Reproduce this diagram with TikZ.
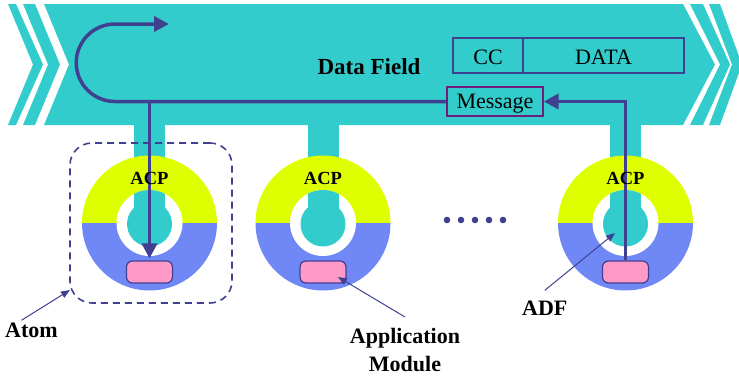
\documentclass[tikz,border=0pt]{standalone}
\usepackage{fontspec}
\setmainfont{Liberation Serif}
\usetikzlibrary{arrows.meta}

\definecolor{band}{RGB}{51,204,204}
\definecolor{ink}{RGB}{64,64,144}
\definecolor{acpyellow}{RGB}{221,255,0}
\definecolor{modblue}{RGB}{112,136,245}
\definecolor{modpink}{RGB}{255,153,200}
\definecolor{msgpurple}{RGB}{110,30,120}

\tikzset{
  flow/.style={draw=ink, line width=3.5pt},
  flowtip/.style={-{Triangle[length=15pt,width=15pt]}},
  pointer/.style={draw=ink, line width=1pt, -{Triangle[length=9pt,width=7pt]}},
  lbl/.style={font=\bfseries\fontsize{22}{28}\selectfont, inner sep=0pt},
  acplabel/.style={font=\bfseries\fontsize{18.5}{22}\selectfont, inner sep=0pt},
  fieldbox/.style={draw=ink, line width=1.5pt, minimum height=35pt, inner sep=0pt,
    text height=19pt, font=\fontsize{22}{26}\selectfont},
  msgbox/.style={draw=msgpurple, line width=1.3pt, minimum width=96pt, minimum height=29pt,
    inner sep=0pt, text depth=0pt, font=\fontsize{22}{26}\selectfont},
  modbox/.style={draw=ink, line width=1.2pt, fill=modpink, rounded corners=6pt,
    minimum width=46pt, minimum height=22pt, inner sep=0pt},
  atombox/.style={draw=ink, line width=1.6pt, dash pattern=on 7pt off 5pt,
    rounded corners=22pt, minimum width=162pt, minimum height=160pt, inner sep=0pt},
  atomring/.pic={
    % upper (ACP) and lower (module) halves of the ring
    \begin{scope}
      \clip (-70,-70) rectangle (70,0);
      \fill[acpyellow] (0,0) circle[radius=67.5];
    \end{scope}
    \begin{scope}
      \clip (-70,0) rectangle (70,70);
      \fill[modblue] (0,0) circle[radius=67.5];
    \end{scope}
    % hole with the stem of the field reaching into it
    \fill[white] (0,0) circle[radius=33];
    \begin{scope}
      \clip (0,0) circle[radius=33];
      \fill[band] (-15.5,-40) rectangle (15.5,0);
    \end{scope}
    \fill[band] (0,1) circle[radius=22.5];
    \node[modbox] (-mod) at (0,49) {};
  }
}

\begin{document}
\begin{tikzpicture}[x=1pt,y=-1pt]
\useasboundingbox (0,0) rectangle (739,378);

% data field band with chevron ends
\begin{scope}
  \clip (0,0) rectangle (739,378);
  \fill[band] (44,4) -- (683,4) -- (715,64.5) -- (683,125) -- (44,125) -- (69,64.5) -- cycle;
  \fill[band] (8,4) -- (16,4) -- (43,64.5) -- (16,125) -- (8,125) -- (33,64.5) -- cycle;
  \fill[band] (23,4) -- (35,4) -- (60,64.5) -- (35,125) -- (23,125) -- (48,64.5) -- cycle;
  \fill[band] (690,4) -- (703,4) -- (730,64.5) -- (703,125) -- (690,125) -- (720,64.5) -- cycle;
  \fill[band] (709,4) -- (720,4) -- (742,64.5) -- (720,125) -- (709,125) -- (732,64.5) -- cycle;
\end{scope}

% stems joining the atoms to the field
\fill[band] (134,120) rectangle (165,165);
\fill[band] (307.5,120) rectangle (338.5,165);
\fill[band] (610,120) rectangle (641,165);

% atoms
\pic (r1) at (149.5,223) {atomring};
\pic (r2) at (323,223) {atomring};
\pic (r3) at (625.5,223) {atomring};

\node[atombox] (atom) at (151,223) {};

% frame fields
\node[fieldbox, minimum width=70pt] (cc) at (488,55.5) {CC};
\node[fieldbox, minimum width=161pt] (data) at (603.5,55.5) {DATA};
\node[msgbox] (msg) at (495,101.5) {Message};

\node[font=\bfseries\fontsize{23}{27}\selectfont, inner sep=0pt, anchor=base] (df) at (369,74) {Data Field};

% message flow
\coordinate (looptip) at (169,24);
\draw[flow, flowtip] (msg.west) -- (115,101.5)
  arc[start angle=90, end angle=270, radius=38.75] -- (looptip);
\draw[flow, flowtip, shorten >=2pt] (r1-mod.north |- msg.west) -- (r1-mod.north);
\draw[flow, flowtip] (r3-mod.north) -- (r3-mod.north |- msg.east) -- (msg.east);

\node[acplabel] (acp1) at (149.5,178) {ACP};
\node[acplabel] (acp2) at (323,178) {ACP};
\node[acplabel] (acp3) at (625.5,178) {ACP};

% more atoms
\foreach \i in {0,...,4}
  \fill[ink] (447+14*\i,220) circle[radius=3.3];

% labels
\node[lbl, anchor=base west] (atomlbl) at (5,337) {Atom};
\node[lbl, align=center, anchor=north] (applbl) at (405,328) {Application\\Module};
\node[lbl, anchor=base west] (adflbl) at (522,315) {ADF};

\coordinate (atomtip) at (70,290);
\coordinate (apptip) at (338,277);
\coordinate (adftip) at (615,233);
\draw[pointer] ([shift={(-10pt,2pt)}]atomlbl.north) -- (atomtip);
\draw[pointer] ([yshift=11pt]applbl.north) -- (apptip);
\draw[pointer] ([yshift=10pt]adflbl.north) -- (adftip);
\end{tikzpicture}
\end{document}
